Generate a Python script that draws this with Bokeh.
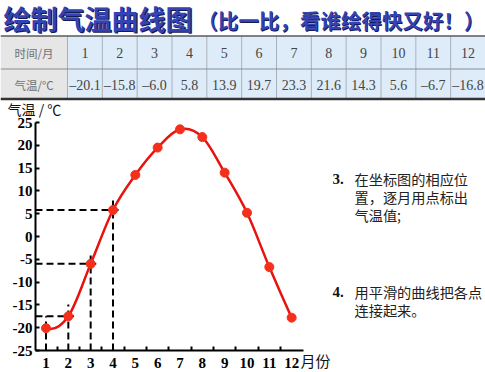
import numpy as np
from bokeh.plotting import figure
from bokeh.models import Range1d, FixedTicker
from bokeh.core.properties import value
from bokeh.embed import file_html
from bokeh.resources import INLINE

# ---------------- data ----------------
title_main = "绘制气温曲线图"
title_sub = "（比一比，看谁绘得快又好！）"
row_headers = ["时间/月", "气温/°C"]
months = [1, 2, 3, 4, 5, 6, 7, 8, 9, 10, 11, 12]
table_temps = [-20.1, -15.8, -6.0, 5.8, 13.9, 19.7, 23.3, 21.6, 14.3, 5.6, -6.7, -16.8]
plotted_temps = [-20.1, -17.5, -6.0, 5.8, 13.5, 19.5, 23.5, 21.8, 14.0, 5.2, -6.7, -17.8]
guide_v_months = [1, 2, 3, 4]
guide_h_months = [2, 3, 4]
y_ticks = [-25, -20, -15, -10, -5, 0, 5, 10, 15, 20, 25]
x_unit_label = "月份"
y_axis_title = "气温 / ℃"
step3_num = "3."
step3_lines = ["在坐标图的相应位", "置，逐月用点标出", "气温值;"]
step4_num = "4."
step4_lines = ["用平滑的曲线把各点", "连接起来。"]

CJK = "Noto Sans CJK SC"
SERIF = "Liberation Serif"
W, H = 485, 372

# ---------------- background sheet: title, table, notes ----------------
T = figure(width=W, height=H, x_range=Range1d(0, W), y_range=Range1d(H, 0),
           output_backend="svg", toolbar_location=None, min_border=0,
           x_axis_location=None, y_axis_location=None, outline_line_color=None,
           styles={"position": "absolute", "left": "0px", "top": "0px"})
T.grid.visible = False

title_col = "#3442b2"
shadow_col = "#151a55"
T.text(x=[4.2], y=[19.2], text=[title_main], text_font=value(CJK), text_font_style="bold",
       text_font_size="27px", text_color=shadow_col, text_baseline="middle", text_align="left")
T.text(x=[3], y=[18], text=[title_main], text_font=value(CJK), text_font_style="bold",
       text_font_size="27px", text_color=title_col, text_baseline="middle", text_align="left")
T.text(x=[197.8], y=[20.0], text=[title_sub], text_font=value(CJK), text_font_style="bold",
       text_font_size="20.5px", text_color=shadow_col, text_baseline="middle", text_align="left")
T.text(x=[197], y=[19], text=[title_sub], text_font=value(CJK), text_font_style="bold",
       text_font_size="20.5px", text_color=title_col, text_baseline="middle", text_align="left")

head_w = 67.0
col_w = (W - head_w) / len(months)
t_top, t_mid, t_bot = 35.5, 68.5, 98.5
lefts = [head_w + i * col_w for i in range(len(months))]
rights = [l + col_w for l in lefts]
T.quad(left=[0], right=[head_w], top=[t_top], bottom=[t_bot], fill_color="#e6e6e6", line_color=None)
T.quad(left=lefts, right=rights, top=[t_top] * len(months), bottom=[t_bot] * len(months),
       fill_color="#deecf9", line_color=None)
col_x = [head_w] + rights[:-1]
T.segment(x0=col_x, y0=[t_top] * len(col_x), x1=col_x, y1=[t_bot] * len(col_x),
          line_color="#a6b0ba", line_width=1)
T.segment(x0=[0], y0=[t_mid], x1=[W], y1=[t_mid], line_color="#8c8c8c", line_width=1)
T.segment(x0=[0], y0=[t_top], x1=[W], y1=[t_top], line_color="#5a5a5a", line_width=1.6)
T.segment(x0=[0], y0=[t_bot], x1=[W], y1=[t_bot], line_color="#333333", line_width=2.4)

row1_y = (t_top + t_mid) / 2 + 0.5
row2_y = (t_mid + t_bot) / 2 + 1
T.text(x=[head_w / 2] * 2, y=[row1_y, row2_y], text=row_headers, text_font=value(CJK),
       text_font_size="11.5px", text_color="#707070", text_align="center", text_baseline="middle")
centers = [l + col_w / 2 for l in lefts]
T.text(x=centers, y=[row1_y] * len(months), text=[str(m) for m in months],
       text_font=value(SERIF), text_font_size="14px", text_color="#444444",
       text_align="center", text_baseline="middle")
T.text(x=centers, y=[row2_y] * len(months),
       text=[f"{v:.1f}".replace("-", "\u2013") for v in table_temps],
       text_font=value(SERIF), text_font_size="14px", text_color="#444444",
       text_align="center", text_baseline="middle")

# axis captions
T.text(x=[7], y=[108], text=[y_axis_title], text_font=value(CJK), text_font_size="14px",
       text_color="#111111", text_baseline="middle", text_align="left")
T.text(x=[300], y=[360], text=[x_unit_label], text_font=value(CJK), text_font_size="15px",
       text_color="#111111", text_baseline="middle", text_align="left")

# notes on the right
def step_block(num, lines, y0):
    T.text(x=[332], y=[y0], text=[num], text_font=value(SERIF), text_font_style="bold",
           text_font_size="15px", text_color="#111111", text_baseline="middle", text_align="left")
    T.text(x=[354] * len(lines), y=[y0 + i * 18 for i in range(len(lines))], text=lines,
           text_font=value(CJK), text_font_size="14.2px", text_color="#222222",
           text_baseline="middle", text_align="left")

step_block(step3_num, step3_lines, 178)
step_block(step4_num, step4_lines, 291)

# ---------------- chart (transparent, on top) ----------------
B = figure(width=W, height=H, x_range=Range1d(0.53, 12.53), y_range=Range1d(-25, 25),
           output_backend="svg", toolbar_location=None,
           min_border_left=35, min_border_right=182, min_border_top=122, min_border_bottom=22,
           outline_line_color=None, background_fill_color=None, border_fill_color=None,
           styles={"position": "absolute", "left": "0px", "top": "0px"})
B.grid.visible = False

B.xaxis.ticker = FixedTicker(ticks=months, minor_ticks=[m + 0.5 for m in months[:-1]])
B.yaxis.ticker = FixedTicker(ticks=y_ticks, minor_ticks=[])
B.yaxis.major_label_overrides = {t: str(t) for t in y_ticks}
for ax in (B.xaxis, B.yaxis):
    ax.axis_line_width = 2
    ax.axis_line_color = "black"
    ax.major_label_text_font = SERIF
    ax.major_label_text_font_style = "bold"
    ax.major_label_text_font_size = "15px"
    ax.major_label_text_color = "black"
B.xaxis.major_label_standoff = 1
B.yaxis.major_label_standoff = 3
B.xaxis.major_tick_line_color = None
B.xaxis.minor_tick_in = 4
B.xaxis.minor_tick_out = 0
B.xaxis.minor_tick_line_width = 2
B.xaxis.minor_tick_line_color = "black"
B.yaxis.major_tick_in = 4
B.yaxis.major_tick_out = 0
B.yaxis.major_tick_line_width = 2
B.yaxis.minor_tick_line_color = None

# dashed guide lines
temp_of = dict(zip(months, plotted_temps))
gv_y = [temp_of[m] for m in guide_v_months]
B.segment(x0=guide_v_months, y0=[B.y_range.start] * len(guide_v_months),
          x1=guide_v_months, y1=[v + 2.6 for v in gv_y],
          line_color="black", line_width=2, line_dash="7 4")
gh_y = [temp_of[m] for m in guide_h_months]
B.segment(x0=[B.x_range.start] * len(guide_h_months), y0=gh_y,
          x1=[m + 0.25 for m in guide_h_months], y1=gh_y,
          line_color="black", line_width=2, line_dash="7 4")

# smooth curve (cubic Bezier segments through the points)
xs = np.array(months, dtype=float)
ys = np.array(plotted_temps, dtype=float)
ty = np.empty_like(ys)
ty[1:-1] = (ys[2:] - ys[:-2]) / 2
ty[0] = -1.5 * ys[0] + 2 * ys[1] - 0.5 * ys[2]
ty[-1] = 1.5 * ys[-1] - 2 * ys[-2] + 0.5 * ys[-3]
dx = np.diff(xs)
B.bezier(x0=xs[:-1], y0=ys[:-1], x1=xs[1:], y1=ys[1:],
         cx0=xs[:-1] + dx / 3, cy0=ys[:-1] + ty[:-1] * dx / 3,
         cx1=xs[1:] - dx / 3, cy1=ys[1:] - ty[1:] * dx / 3,
         line_color="#e8120e", line_width=2.5)
B.scatter(x=months, y=plotted_temps, size=9, fill_color="#f3301c", line_color="#f3301c")

with open("out.html", "w") as f:
    f.write(file_html([T, B], INLINE))
